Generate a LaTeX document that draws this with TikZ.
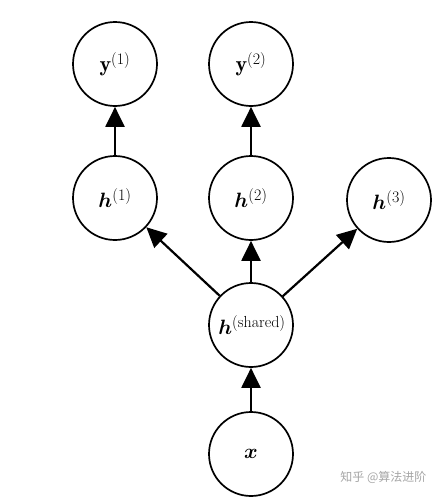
\documentclass[tikz,border=0pt]{standalone}
\usepackage{amsmath,amssymb,bm}
\usepackage{fontspec}
\newfontfamily\cjk{Noto Sans CJK SC}
\usetikzlibrary{arrows.meta}
\newcommand{\supx}[1]{\mbox{\fontsize{16}{18}\selectfont(#1)}}
\begin{document}
\begin{tikzpicture}[x=1pt,y=-1pt,
  unit/.style={circle,draw,line width=1.7pt,minimum size=84pt,inner sep=0pt,font=\fontsize{22}{26}\selectfont},
  conn/.style={line width=2.2pt,-{Triangle[length=20pt,width=19pt]}}]
\path[fill=white] (0,0) rectangle (439,498);
\useasboundingbox (0,0) rectangle (439,498);
\node[unit] (y1) at (115,64) {$\mathbf{y}^{\supx{1}}$};
\node[unit] (y2) at (251,64) {$\mathbf{y}^{\supx{2}}$};
\node[unit] (h1) at (115,198) {$\bm{h}^{\supx{1}}$};
\node[unit] (h2) at (251,198) {$\bm{h}^{\supx{2}}$};
\node[unit] (h3) at (389,200) {$\bm{h}^{\supx{3}}$};
\node[unit] (hs) at (251,325) {\hspace{2pt}$\bm{h}^{\supx{shared}}$};
\node[unit] (x) at (251,454) {$\bm{x}$};
\draw[conn] (h1) -- (y1);
\draw[conn] (h2) -- (y2);
\draw[conn] (hs) -- (h1);
\draw[conn] (hs) -- (h2);
\draw[conn] (hs) -- (h3);
\draw[conn] (x) -- (hs);
\node[text=black!35,font=\cjk\fontsize{12}{14}\selectfont,anchor=east] (wm) at (430,477) {知乎 @算法进阶};
\end{tikzpicture}
\end{document}
